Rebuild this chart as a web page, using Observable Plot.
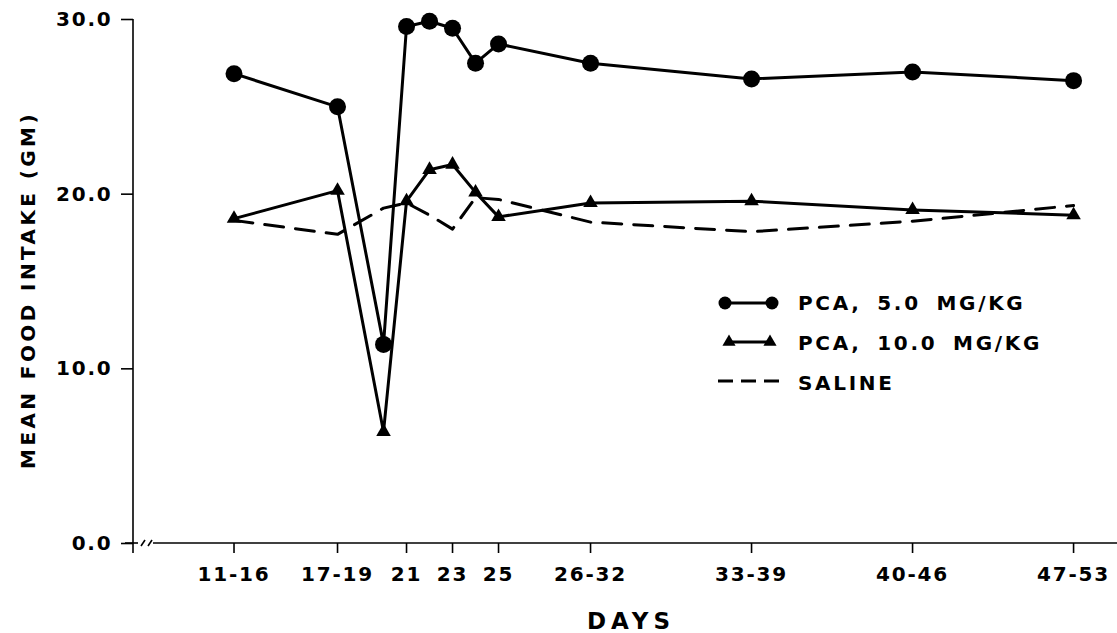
<!DOCTYPE html>
<html>
<head>
<meta charset="utf-8">
<script src="https://cdn.jsdelivr.net/npm/d3@7"></script>
<script src="https://cdn.jsdelivr.net/npm/@observablehq/plot@0.6"></script>
<style>
  html, body { margin: 0; padding: 0; background: #fff; }
  #chart { position: relative; width: 1117px; height: 633px; }
</style>
</head>
<body>
<div id="chart"></div>
<script>
// ---- data ----
const days   = [13.5, 18, 20, 21, 22, 23, 24, 25, 29, 36, 43, 50];
const pca5   = [26.9, 25.0, 11.4, 29.6, 29.9, 29.5, 27.5, 28.6, 27.5, 26.6, 27.0, 26.5];
const pca10  = [18.6, 20.2, 6.4, 19.6, 21.4, 21.7, 20.1, 18.7, 19.5, 19.6, 19.1, 18.8];
const saline = [18.5, 17.7, 19.2, 19.5, 18.8, 18.0, 19.8, 19.7, 18.4, 17.85, 18.45, 19.35];
const tickDays   = [13.5, 18, 21, 23, 25, 29, 36, 43, 50];
const tickLabels = ["11-16", "17-19", "21", "23", "25", "26-32", "33-39", "40-46", "47-53"];
const yTicks = [0, 10, 20, 30];
const seriesNames = ["PCA, 5.0 MG/KG", "PCA, 10.0 MG/KG", "SALINE"];
const xLabel = "DAYS";
const yLabel = "MEAN FOOD INTAKE (GM)";

// ---- layout ----
const W = 1117, H = 633;
const mL = 133, mR = 0, mT = 19, mB = 90;
const FONT = "DejaVu Sans";

const rows = s => days.map((d, i) => ({day: d, v: s[i]}));
const d5 = rows(pca5), d10 = rows(pca10), dS = rows(saline);

function decor() {
  const g = d3.create("svg:g").attr("class", "decor").attr("font-family", FONT).attr("font-weight", "bold")
    .attr("fill", "black").attr("text-anchor", "start");
  const x0 = mL, y0 = H - mB, xR = W - mR;
  const ax = g.append("g").attr("stroke", "black").attr("stroke-width", 1.6).attr("fill", "none");
  ax.append("line").attr("x1", x0).attr("y1", mT).attr("x2", x0).attr("y2", y0 + 10);
  ax.append("line").attr("x1", x0 - 8).attr("y1", y0).attr("x2", x0 + 5).attr("y2", y0);
  ax.append("line").attr("x1", x0 + 8).attr("y1", y0 + 3).attr("x2", x0 + 12).attr("y2", y0 - 3);
  ax.append("line").attr("x1", x0 + 15).attr("y1", y0 + 3).attr("x2", x0 + 19).attr("y2", y0 - 3);
  ax.append("line").attr("x1", x0 + 20).attr("y1", y0).attr("x2", xR).attr("y2", y0);

  // axis titles
  g.append("text").text(xLabel)
    .attr("x", 631).attr("y", 621).attr("dy", "0.36em")
    .attr("text-anchor", "middle").attr("font-size", 23).attr("letter-spacing", 5);
  g.append("text").text(yLabel)
    .attr("transform", "translate(27.5,290) rotate(-90)").attr("dy", "0.36em")
    .attr("text-anchor", "middle").attr("font-size", 20).attr("letter-spacing", 3.4);

  // legend
  const lg = g.append("g");
  const tx = 798;
  lg.append("line").attr("x1", 725).attr("x2", 772).attr("y1", 303).attr("y2", 303)
    .attr("stroke", "black").attr("stroke-width", 3);
  [725, 772].forEach(cx => lg.append("circle").attr("cx", cx).attr("cy", 303).attr("r", 6.5));
  lg.append("line").attr("x1", 729).attr("x2", 770).attr("y1", 342).attr("y2", 342)
    .attr("stroke", "black").attr("stroke-width", 3);
  const tri = d3.symbol(d3.symbolTriangle, 75)();
  [729, 770].forEach(cx => lg.append("path").attr("d", tri).attr("transform", `translate(${cx},342)`));
  lg.append("line").attr("x1", 718).attr("x2", 780).attr("y1", 381).attr("y2", 381)
    .attr("stroke", "black").attr("stroke-width", 3).attr("stroke-dasharray", "15,8");
  [303, 342.5, 382.5].forEach((yy, i) => {
    lg.append("text").text(seriesNames[i]).attr("x", tx).attr("y", yy).attr("dy", "0.36em")
      .attr("text-anchor", "start")
      .attr("font-size", 20).attr("letter-spacing", 2.7).attr("word-spacing", 6);
  });
  return g.node();
}

const chart = Plot.plot({
  width: W, height: H,
  marginLeft: mL, marginRight: mR, marginTop: mT, marginBottom: mB,
  style: {fontFamily: FONT, fontWeight: "bold", color: "black", background: "white", overflow: "visible"},
  x: {type: "linear", domain: [9.13, 51.91]},
  y: {type: "linear", domain: [0, 30]},
  marks: [
    Plot.axisY({ticks: yTicks, tickFormat: d => d.toFixed(1), tickSize: 12, tickPadding: 9,
      strokeWidth: 1.6, label: null}),
    Plot.axisX({ticks: tickDays, tickFormat: (d) => tickLabels[tickDays.indexOf(d)], tickSize: 10, tickPadding: 13,
      strokeWidth: 1.6, label: null}),
    Plot.line(dS, {x: "day", y: "v", stroke: "black", strokeWidth: 3, strokeDasharray: "19,12"}),
    Plot.line(d10, {x: "day", y: "v", stroke: "black", strokeWidth: 3, strokeLinejoin: "round"}),
    Plot.line(d5, {x: "day", y: "v", stroke: "black", strokeWidth: 3, strokeLinejoin: "round"}),
    Plot.dot(d10, {x: "day", y: "v", symbol: "triangle", r: 5.4, fill: "black", stroke: null}),
    Plot.dot(d5, {x: "day", y: "v", r: 8.5, fill: "black", stroke: null}),
    decor
  ]
});
// enlarge the axis tick labels (inline style wins over Plot's defaults)
d3.select(chart).selectAll("text")
  .filter(function () { return !this.closest(".decor"); })
  .style("font-size", "20px").style("font-family", FONT).style("font-weight", "bold")
  .style("letter-spacing", "1.8px");
document.getElementById("chart").appendChild(chart);
</script>
</body>
</html>
